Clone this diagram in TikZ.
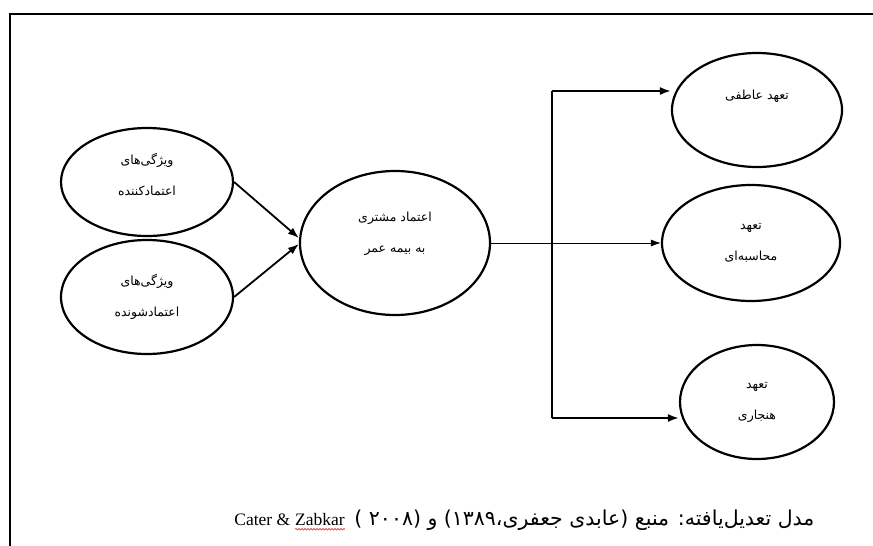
\documentclass[tikz,border=0pt]{standalone}
\usepackage{fontspec}
\setmainfont{Liberation Serif}
\newfontfamily\arabicfont[Script=Arabic]{DejaVu Sans}
\TeXXeTstate=1
\usetikzlibrary{arrows.meta,shapes,positioning,decorations.pathmorphing}

\begin{document}
\begin{tikzpicture}[x=1pt,y=-1pt,
    bubble/.style={ellipse, draw, line width=2.2pt, inner sep=0pt, align=center,
      font=\arabicfont\fontsize{12.5}{31}\selectfont},
    link/.style={line width=1.8pt, -{Latex[length=11pt,width=8pt]}},
    thinlink/.style={line width=0.9pt, -{Latex[length=10pt,width=7pt]}}]
    \useasboundingbox (0,0) rectangle (873,546);

    % Outer frame (only top and left edges are in view)
    \draw[line width=2.2pt] (10,546) -- (10,14) -- (873,14);

    % Antecedents on the left
    \node[bubble, minimum width=172, minimum height=108] (tor) at (147,182)
      {\beginR ویژگی‌های\endR\\ \beginR اعتمادکننده\endR\\[-15pt]\mbox{}};
    \node[bubble, minimum width=172, minimum height=114] (tee) at (147,297)
      {\beginR ویژگی‌های\endR\\ \beginR اعتمادشونده\endR};

    % Central construct
    \node[bubble, minimum width=190, minimum height=144] (trust) at (395,243)
      {\beginR اعتماد مشتری\endR\\ \beginR به بیمه عمر\endR\\[-9pt]\mbox{}};

    % Outcomes on the right
    \node[bubble, minimum width=170, minimum height=114] (aff) at (757,110)
      {\beginR تعهد عاطفی\endR\\ \mbox{}};
    \node[bubble, minimum width=178, minimum height=116] (calc) at (751,243)
      {\beginR تعهد\endR\\ \beginR محاسبه‌ای\endR};
    \node[bubble, minimum width=154, minimum height=114] (norm) at (757,402)
      {\beginR تعهد\endR\\ \beginR هنجاری\endR};

    % Inputs into the central node
    \draw[link] (tor.east) -- ([yshift=5pt]trust.west);
    \draw[link] (tee.east) -- ([yshift=-1pt]trust.west);

    % Fan-out to the three outcomes
    \coordinate (bt) at (552,91);
    \coordinate (bb) at (552,418);
    \draw[thinlink] (trust.east) -- (calc.west);
    \draw[line width=2pt] (bt) -- (bb);
    \draw[link] (bt) -- (bt -| aff.west);
    \draw[link] (bb) -- (bb -| norm.west);

    % Source line
    \node[font=\arabicfont\fontsize{20.5}{24}\selectfont, anchor=east] (cap) at (818,520)
      {\beginR مدل تعدیل‌یافته: منبع (عابدی جعفری،۱۳۸۹) و (۲۰۰۸ )\endR};
    \node[base left=6pt of cap, font=\fontsize{17.5}{20}\selectfont, inner sep=0pt] (zab) {Zabkar};
    \node[base left=4.5pt of zab, font=\fontsize{17.5}{20}\selectfont, inner sep=0pt] (cat) {Cater \&};
    \draw[red!80!black, line width=0.5pt, decorate,
      decoration={snake, amplitude=0.8pt, segment length=3pt}]
      ([yshift=-4pt]zab.base west) -- ([yshift=-4pt]zab.base east);
\end{tikzpicture}
\end{document}
